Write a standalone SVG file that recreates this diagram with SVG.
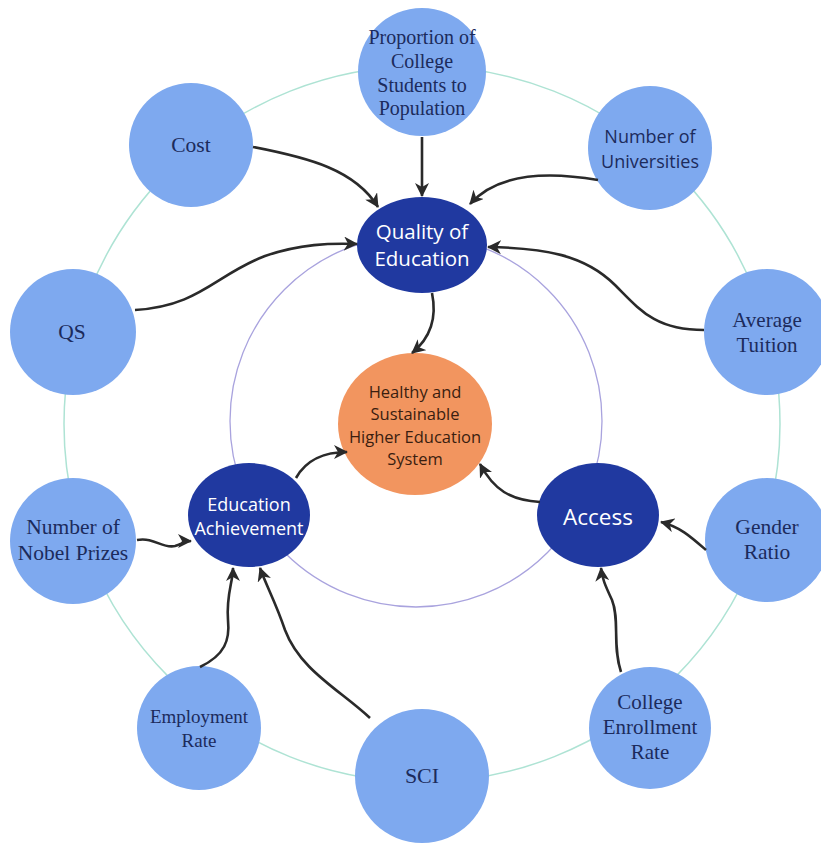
<svg xmlns="http://www.w3.org/2000/svg" width="821" height="843" viewBox="0 0 821 843">
<style>
.ring{fill:none}
.lb{fill:#7ea9ef}
.db{fill:#2039a0}
.or{fill:#f2955f}
.ts{font-family:"Liberation Serif","Times New Roman",serif;fill:#1c2b5c;text-anchor:middle}
.tsa{font-family:"Open Sans","Liberation Sans",sans-serif;fill:#1c2b5c;text-anchor:middle}
.tw{font-family:"Open Sans","Liberation Sans",sans-serif;fill:#ffffff;text-anchor:middle}
.tc{font-family:"Open Sans","Liberation Sans",sans-serif;fill:#3a1e10;text-anchor:middle}
.edge{fill:none;stroke:#2a2a2a;stroke-width:2.6;marker-end:url(#arr)}
</style>
<defs>
<marker id="arr" markerUnits="userSpaceOnUse" markerWidth="16" markerHeight="14" refX="13" refY="7" orient="auto">
<path d="M0,0 L14,7 L0,14 L4,7 Z" fill="#2a2a2a"/>
</marker>
</defs>
<rect width="821" height="843" fill="#ffffff"/>
<circle class="ring" cx="422" cy="424" r="358" stroke="#aee3d4" stroke-width="1.5"/>
<circle class="ring" cx="416" cy="421" r="186" stroke="#a9a3de" stroke-width="1.3"/>

<g id="proportion"><circle class="lb" cx="422" cy="72" r="64"/>
<text class="ts" font-size="20"><tspan x="422" y="44">Proportion of</tspan><tspan x="422" y="68">College</tspan><tspan x="422" y="92">Students to</tspan><tspan x="422" y="115">Population</tspan></text></g>
<g id="cost"><circle class="lb" cx="191" cy="145" r="62"/><text class="ts" font-size="21.5" x="191" y="152">Cost</text></g>
<g id="qs"><circle class="lb" cx="73" cy="332" r="63"/><text class="ts" font-size="21.5" x="72" y="339">QS</text></g>
<g id="universities"><circle class="lb" cx="650" cy="148" r="62"/>
<text class="tsa" font-size="18"><tspan x="650" y="143">Number of</tspan><tspan x="650" y="168">Universities</tspan></text></g>
<g id="tuition"><circle class="lb" cx="767" cy="332" r="63"/>
<text class="ts" font-size="21"><tspan x="767" y="327">Average</tspan><tspan x="767" y="352">Tuition</tspan></text></g>
<g id="nobel"><circle class="lb" cx="73" cy="541" r="63"/>
<text class="ts" font-size="21.5"><tspan x="73" y="534">Number of</tspan><tspan x="73" y="560">Nobel Prizes</tspan></text></g>
<g id="employment"><circle class="lb" cx="199" cy="728" r="62"/>
<text class="ts" font-size="19"><tspan x="199" y="723">Employment</tspan><tspan x="199" y="747">Rate</tspan></text></g>
<g id="sci"><circle class="lb" cx="422" cy="776" r="67"/><text class="ts" font-size="22" x="422" y="783">SCI</text></g>
<g id="enrollment"><circle class="lb" cx="650" cy="728" r="61"/>
<text class="ts" font-size="21"><tspan x="650" y="709">College</tspan><tspan x="650" y="734">Enrollment</tspan><tspan x="650" y="759">Rate</tspan></text></g>
<g id="gender"><circle class="lb" cx="767" cy="540" r="62"/>
<text class="ts" font-size="21.5"><tspan x="767" y="534">Gender</tspan><tspan x="767" y="559">Ratio</tspan></text></g>

<g id="quality"><ellipse class="db" cx="422" cy="245" rx="65" ry="48"/>
<text class="tw" font-size="20.5"><tspan x="422" y="239">Quality of</tspan><tspan x="422" y="266">Education</tspan></text></g>
<g id="achievement"><ellipse class="db" cx="249" cy="515" rx="61" ry="52"/>
<text class="tw" font-size="18"><tspan x="249" y="511">Education</tspan><tspan x="249" y="535">Achievement</tspan></text></g>
<g id="access"><ellipse class="db" cx="598" cy="515" rx="61" ry="52"/>
<text class="tw" font-size="22.5" x="598" y="525">Access</text></g>
<g id="system"><ellipse class="or" cx="415" cy="424" rx="77" ry="71"/>
<text class="tc" font-size="16.5"><tspan x="415" y="398">Healthy and</tspan><tspan x="415" y="420">Sustainable</tspan><tspan x="415" y="443">Higher Education</tspan><tspan x="415" y="465">System</tspan></text></g>

<g id="connectors">
<path class="edge" d="M253,147 C310,158 355,170 378,207"/>
<path class="edge" d="M422,137 L422,196"/>
<path class="edge" d="M598,180 C540,170 495,176 470,204"/>
<path class="edge" d="M135,310 C200,306 215,275 265,256 C300,244 330,243 357,244"/>
<path class="edge" d="M704,330 C655,330 640,310 615,285 C585,255 545,248 488,247"/>
<path class="edge" d="M432,293 C438,322 428,340 412,353"/>
<path class="edge" d="M296,478 C306,460 325,452 347,452"/>
<path class="edge" d="M540,502 C510,500 494,490 480,464"/>
<path class="edge" d="M706,550 C690,536 680,527 661,522"/>
<path class="edge" d="M621,672 C612,645 620,620 612,600 C605,585 602,578 601,568"/>
<path class="edge" d="M137,540 C155,537 162,549 175,546 C182,544 185,541 191,541"/>
<path class="edge" d="M200,667 C225,655 230,640 228,620 C226,595 233,582 233,568"/>
<path class="edge" d="M370,718 C340,690 300,670 285,630 C276,603 266,585 260,568"/>
</g>
</svg>
